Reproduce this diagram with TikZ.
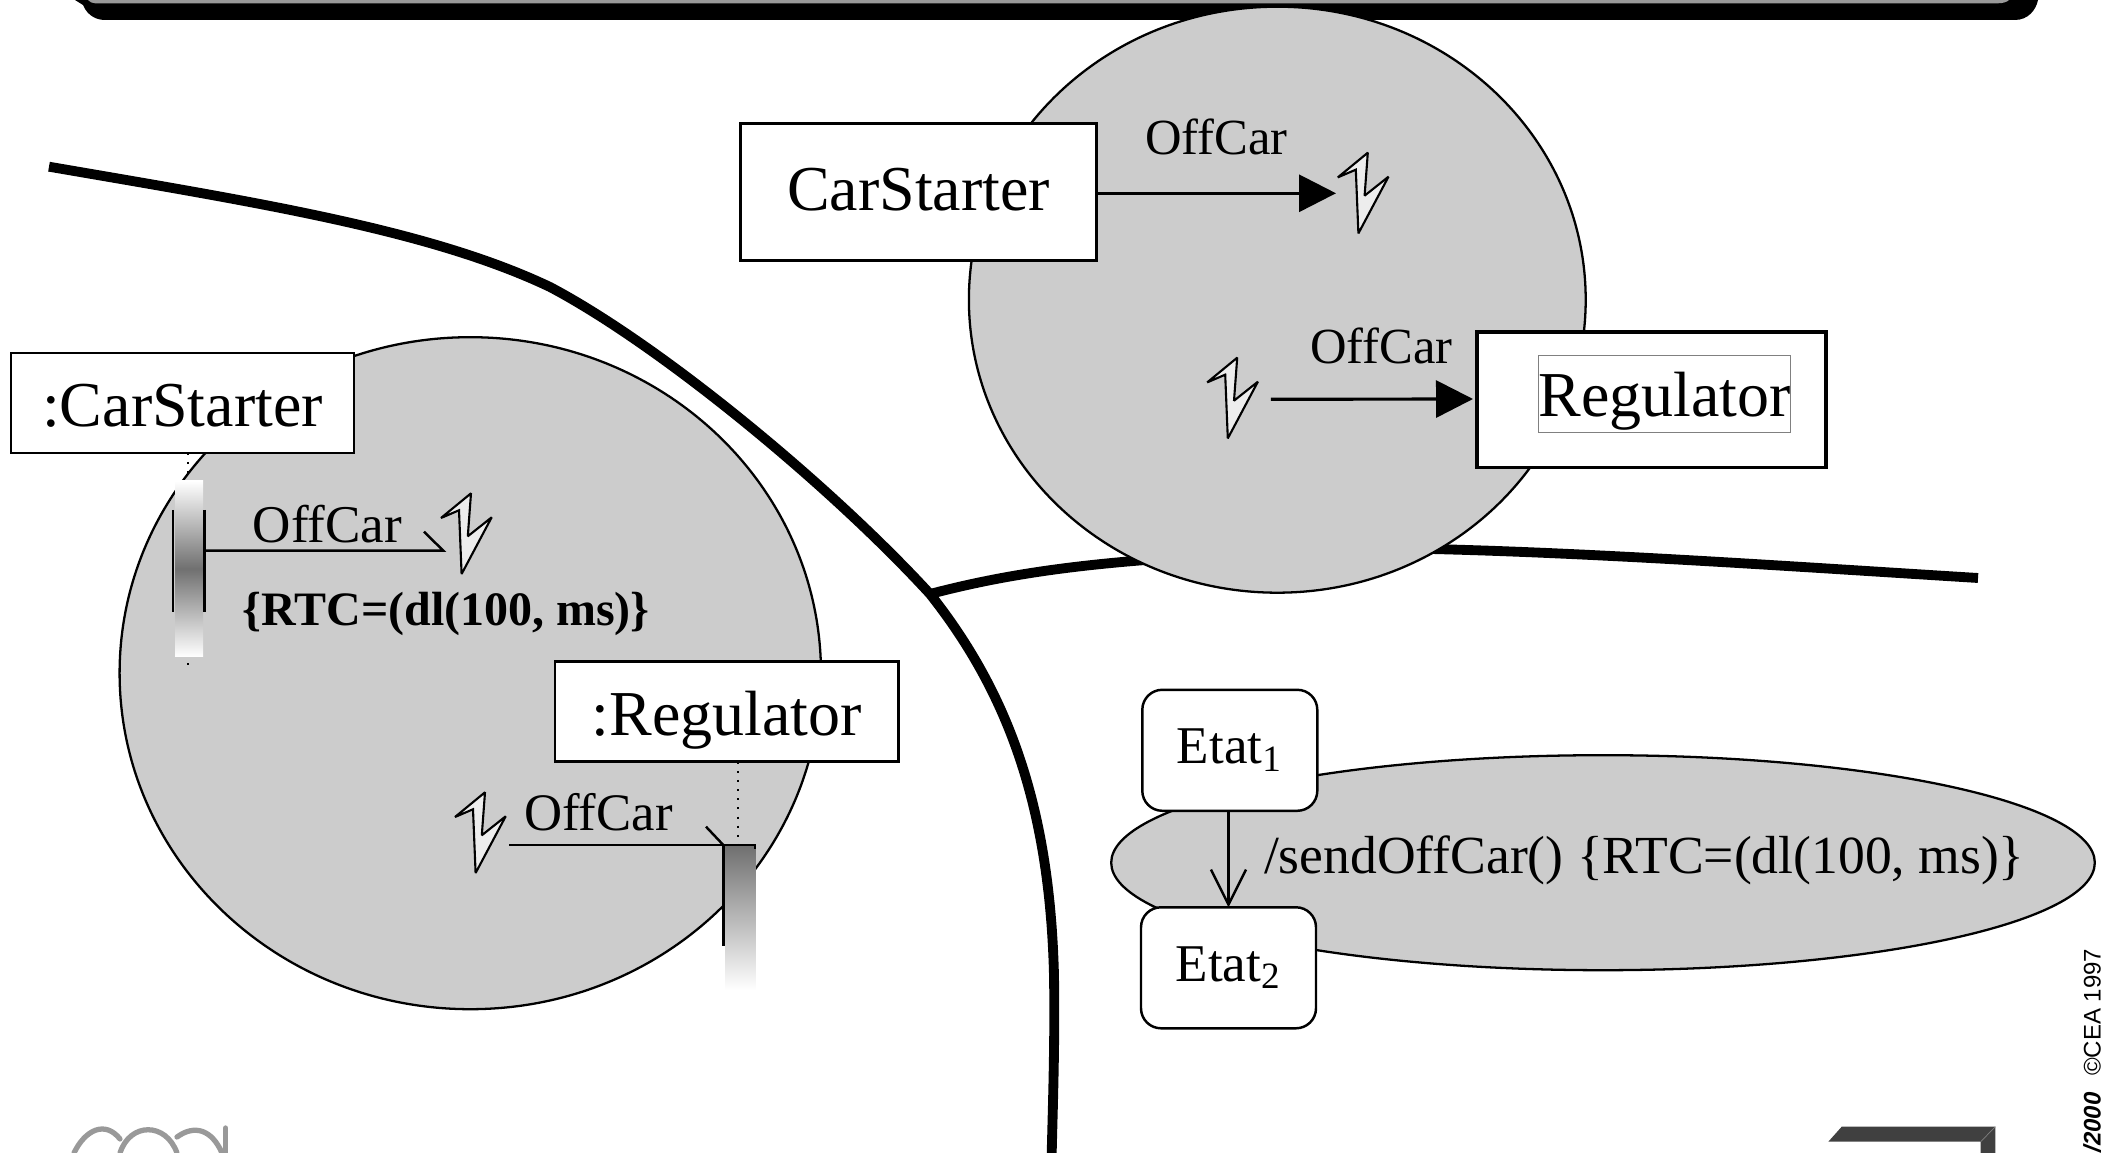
\documentclass[tikz,border=0pt]{standalone}
\usepackage{fontspec}
\setmainfont{Liberation Serif}
\setsansfont{Liberation Sans}
\usetikzlibrary{arrows.meta,shapes.geometric}
\definecolor{fondgris}{HTML}{CCCCCC}
\definecolor{logogris}{HTML}{999999}
\definecolor{coingris}{HTML}{404040}
\definecolor{barregris}{HTML}{707070}
\newcommand{\corps}[1]{\fontsize{#1}{#1}\selectfont}
\tikzset{
  zone/.style={ellipse,draw,fill=fondgris,line width=.65pt,inner sep=0pt,outer sep=0pt},
  boite/.style={rectangle,draw,fill=white,inner sep=0pt,outer sep=0pt,text height=.48cm,text depth=0cm,font=\corps{18.2}},
  etatbox/.style={rectangle,rounded corners=.2cm,draw,fill=white,line width=.7pt,inner sep=0pt,outer sep=0pt,
    minimum width=1.75cm,minimum height=1.21cm,text height=.27cm,text depth=0cm,font=\corps{15.1}},
  msglabel/.style={anchor=base,inner sep=0pt,font=\corps{15}},
  barre/.style={rectangle,inner sep=0pt,outer sep=0pt},
  trait/.style={line width=.7pt},
  plein/.style={-{Triangle[length=.37cm,width=.37cm]},line width=.9pt},
  frontiere/.style={line width=2.8pt,line join=round},
  logo/.style={logogris,line width=1.5pt,line cap=round},
  eclair/.pic={
    \draw [fill=black!7,line width=.6pt,line join=miter,miter limit=2]
      (.30,0) -- (.268,.43) -- (.507,.24) -- (.206,.807) -- (.18,.17) -- (0,.247) -- cycle;
  }
}
\begin{document}
\begin{tikzpicture}[x=1cm,y=-1cm]
  \useasboundingbox (0,0) rectangle (21.07,11.53);
  % bandeau du haut
  \fill (.75,0) -- (.83,.05) .. controls (.88,.17) and (.98,.2) .. (1.05,.2) -- (20.15,.2)
    .. controls (20.28,.2) and (20.36,.1) .. (20.38,0) -- cycle;
  \fill [logogris] (.88,0) .. controls (.9,.02) and (.92,.033) .. (.95,.033) -- (19.98,.033)
    .. controls (20.03,.033) and (20.07,.02) .. (20.09,0) -- cycle;
  % frontieres
  \draw [frontiere] (.49,1.667) .. controls (2.6,2.03) and (4.3,2.3) .. (5.5,2.87)
    .. controls (6.6,3.45) and (8.3,4.85) .. (9.3,5.94)
    .. controls (10.1,6.95) and (10.5,8.1) .. (10.54,9.76)
    .. controls (10.55,10.4) and (10.53,11) .. (10.517,11.53);
  \draw [frontiere] (9.3,5.94) .. controls (10.3,5.68) and (11.4,5.53) .. (14.31,5.49)
    .. controls (16,5.53) and (18,5.67) .. (19.78,5.78);
  % zones
  \node [zone,minimum width=6.168cm,minimum height=5.86cm] (zonehaut) at (12.773,2.997) {};
  \node [zone,minimum width=7.014cm,minimum height=6.72cm] (zonegauche) at (4.703,6.732) {};
  \node [zone,minimum width=9.836cm,minimum height=2.15cm] (zonebas) at (16.03,8.627) {};
  % classes
  \node [boite,line width=.85pt,text height=.38cm,minimum width=3.562cm,minimum height=1.371cm] (carstarter) at (9.185,1.92) {CarStarter};
  \node [boite,line width=1.05pt,minimum width=3.494cm,minimum height=1.357cm] (regulator) at (16.515,3.997) {};
  \node [draw=gray,line width=.3pt,inner sep=0pt,text height=.61cm,text depth=.167cm,font=\corps{18.2}] (regulatorname) at (16.648,3.94) {Regulator};
  \coordinate (foudre1) at (13.36,1.933);
  \coordinate (depart2) at (12.708,3.993);
  \draw [plein] (carstarter.east |- foudre1) -- (foudre1);
  \draw [plein] (depart2) -- (14.73,3.99);
  \pic at (13.378,1.527) {eclair};
  \pic at (12.072,3.577) {eclair};
  \node [msglabel,font=\corps{14.4}] (offcar1) at (12.165,1.55) {OffCar};
  \node [msglabel,font=\corps{14.4}] (offcar2) at (13.815,3.64) {OffCar};
  % sequence
  \node [boite,line width=.75pt,minimum width=3.43cm,minimum height=.997cm] (objcarstarter) at (1.825,4.03) {:CarStarter};
  \node [boite,line width=.75pt,minimum width=3.433cm,minimum height=1cm] (objregulator) at (7.267,7.117) {:Regulator};
  \draw [dotted,line width=.6pt] (objcarstarter.south -| 1.88,0) -- (1.88,6.67);
  \draw [dotted,line width=.6pt] (objregulator.south -| 7.383,0) -- (7.383,8.45);
  \node [barre,top color=white,bottom color=white,middle color=barregris,minimum width=.28cm,minimum height=1.757cm] (barre1) at (1.89,5.688) {};
  \node [barre,top color=barregris,bottom color=white,minimum width=.307cm,minimum height=1.44cm] (barre2) at (7.404,9.18) {};
  \draw [trait] (1.728,5.1) -- (1.728,6.117);
  \draw [trait] (2.045,5.1) -- (2.045,6.117);
  \draw [trait] (7.233,8.45) -- (7.233,9.46);
  \coordinate (bout1) at (4.433,5.507);
  \coordinate (bout2) at (7.233,8.45);
  \draw [trait] (2.045,5.507) -- (bout1) -- (4.24,5.317);
  \draw [trait] (5.093,8.45) -- (7.55,8.45) -- (7.55,8.49);
  \draw [trait] (bout2) -- (7.06,8.267);
  \pic at (4.41,4.933) {eclair};
  \pic at (4.55,7.923) {eclair};
  \node [msglabel,font=\corps{15.1}] (offcar3) at (3.275,5.427) {OffCar};
  \node [msglabel] (offcar4) at (5.985,8.31) {OffCar};
  \node [anchor=base,inner sep=0pt,font=\corps{13.65}\bfseries] (rtc) at (4.463,6.26) {\{RTC=(dl(100, ms)\}};
  % etats
  \node [etatbox] (etat1) at (12.298,7.503) {Etat\textsubscript{1}};
  \node [etatbox] (etat2) at (12.285,9.678) {Etat\textsubscript{2}};
  \draw [trait,-{Straight Barb[length=.35cm,width=.35cm]}] (etat2.north |- etat1.south) -- (etat2.north);
  \node [msglabel,anchor=base west,font=\corps{15.25}] (transition) at (12.633,8.74) {/sendOffCar() \{RTC=(dl(100, ms)\}};
  % logo
  \draw [logo] (.74,11.53) .. controls (.85,11.3) and (1.05,11.2) .. (1.2,11.39);
  \draw [logo] (1.2,11.53) .. controls (1.3,11.22) and (1.66,11.22) .. (1.77,11.53);
  \draw [logo] (1.77,11.37) .. controls (1.95,11.24) and (2.12,11.3) .. (2.22,11.53);
  \draw [logo] (2.257,11.28) -- (2.257,11.53);
  % coin
  \fill [coingris] (18.417,11.267) -- (19.953,11.267) -- (19.953,11.53) -- (19.807,11.53)
    -- (19.807,11.417) -- (18.283,11.417) -- cycle;
  \draw [gray,line width=.2pt] (19.953,11.267) -- (19.807,11.417);
  % mention
  \node [rotate=90,anchor=base west,inner sep=0pt,font=\corps{6.83}\sffamily] (cea) at (21.007,10.767) {©CEA 1997};
  \node [rotate=90,anchor=base east,inner sep=0pt,font=\corps{6.83}\sffamily\bfseries\itshape] (annee) at (21.007,10.917) {/2000};
\end{tikzpicture}
\end{document}
